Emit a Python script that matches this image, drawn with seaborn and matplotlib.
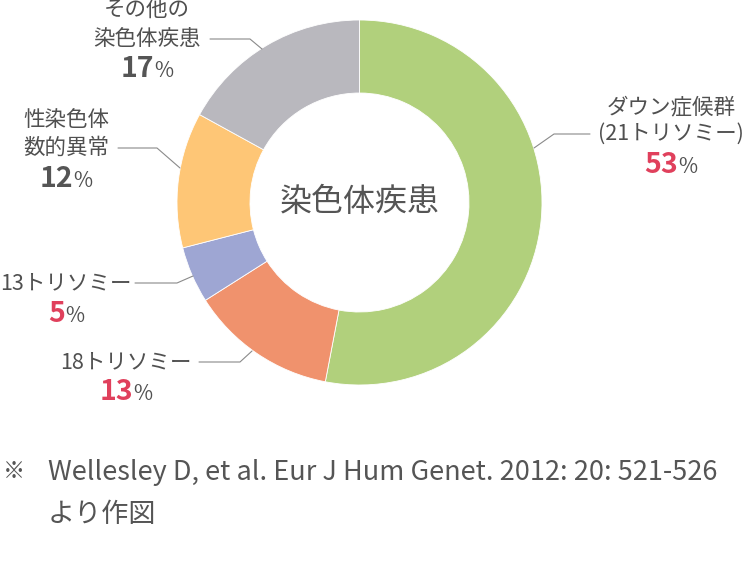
"""Donut chart of chromosomal disorder breakdown."""
import matplotlib
matplotlib.use("Agg")
import matplotlib.pyplot as plt
from matplotlib.offsetbox import TextArea, HPacker, AnnotationBbox
import seaborn as sns

# data
categories = ["ダウン症候群\n(21トリソミー)", "18トリソミー", "13トリソミー",
              "性染色体\n数的異常", "その他の\n染色体疾患"]
shares = [53, 13, 5, 12, 17]
highlight = [True, True, True, False, False]
center_label = "染色体疾患"
note_mark = "※"
note_lines = ["Wellesley D, et al. Eur J Hum Genet. 2012: 20: 521-526", "より作図"]

palette = sns.color_palette(["#b1d07c", "#f0926d", "#9ea6d3", "#fec676", "#b9b8be"])

sns.set_theme(style="white")
plt.rcParams["font.family"] = ["Noto Sans CJK JP", "DejaVu Sans"]

W, H = 744, 572
TXT = "#505050"
RED = "#e0405c"
LINE = "#8a8a8a"


def Y(y):
    # pixel row (top-down) -> data y
    return H - y


fig = plt.figure(figsize=(W / 100, H / 100), dpi=100)
ax = fig.add_axes([0, 0, 1, 1])

cx, cy, r_out, ring = 359.5, 202.5, 182.5, 73
ax.pie(shares, colors=palette, startangle=90, counterclock=False,
       radius=r_out, center=(cx, Y(cy)),
       wedgeprops={"width": ring, "edgecolor": "white", "linewidth": 0.6})
ax.set_xlim(0, W)
ax.set_ylim(0, H)
ax.axis("off")

ax.text(cx, Y(cy), center_label, ha="center", va="center",
        fontsize=23, color="#555555")

# label layout: text centre x, first line y, line step, percent y, leader polyline
layout = [
    dict(x=671, y0=107, step=27, py=165, lead=[(590, 134), (554, 134), (534, 148)]),
    dict(x=126, y0=362, step=29, py=392, lead=[(199, 362), (240, 362), (252, 351)]),
    dict(x=66, y0=283, step=29, py=314, lead=[(135, 283), (177, 283), (193, 276)]),
    dict(x=66, y0=120, step=28, py=179, lead=[(118, 148), (157, 148), (180, 168)]),
    dict(x=147, y0=10, step=29, py=69, lead=[(210, 39), (250, 39), (262, 49)]),
]

for name, val, hi, lay in zip(categories, shares, highlight, layout):
    for i, line in enumerate(name.split("\n")):
        ax.text(lay["x"], Y(lay["y0"] + i * lay["step"]), line,
                ha="center", va="center", fontsize=15.5, color=TXT)
    num = TextArea(str(val), textprops=dict(fontsize=20.5, fontweight="bold",
                                            color=RED if hi else "#555555"))
    pct = TextArea("%", textprops=dict(fontsize=15, color=TXT))
    box = HPacker(children=[num, pct], align="baseline", pad=0, sep=0)
    ab = AnnotationBbox(box, (lay["x"], Y(lay["py"])), frameon=False,
                        box_alignment=(0.5, 0.5), pad=0)
    ax.add_artist(ab)
    xs = [p[0] for p in lay["lead"]]
    ys = [Y(p[1]) for p in lay["lead"]]
    ax.plot(xs, ys, color=LINE, linewidth=0.8)

ax.text(3, Y(472), note_mark, ha="left", va="center", fontsize=16, color="#555555")
for i, line in enumerate(note_lines):
    ax.text(48, Y(472 + i * 43), line, ha="left", va="center",
            fontsize=19.5, color="#555555")

fig.savefig("out.png", dpi=100)
